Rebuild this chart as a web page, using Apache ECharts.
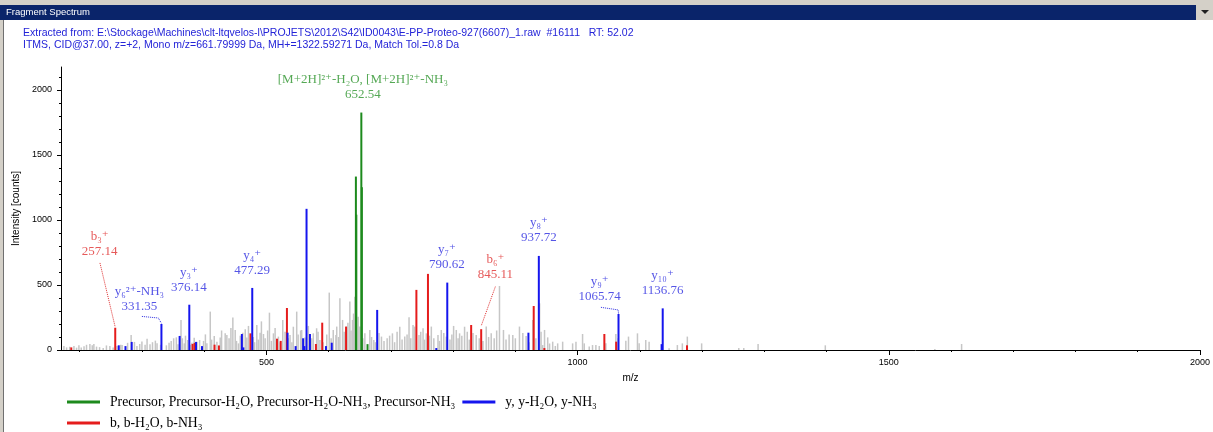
<!DOCTYPE html>
<html>
<head>
<meta charset="utf-8">
<title>Fragment Spectrum</title>
<script src="https://cdn.jsdelivr.net/npm/echarts@6/dist/echarts.min.js"></script>
<style>
html, body { margin: 0; padding: 0; background: #fff; }
#main { width: 1213px; height: 432px; }
</style>
</head>
<body>
<div id="main"></div>
<script>
// peaks as [m/z, intensity]
var precursorPeaks = [[643.8, 1333], [644.5, 1040], [652.54, 1825], [653.4, 1251], [662.5, 45]];

var yIonPeaks = [[262.8, 36], [273.6, 30], [283.6, 62], [331.35, 200], [360.6, 108], [376.14, 348], [387, 62], [396.5, 30],
    [460.6, 123], [463, 20], [477.29, 477], [534, 133], [547, 30], [559, 90], [561, 30], [564.5, 1085], [570, 123],
    [595.7, 30], [605, 56], [678, 308], [773, 15], [790.62, 518], [921, 133], [937.72, 723], [1065.74, 277],
    [1135, 45], [1136.76, 320]];

var bIonPeaks = [[186.5, 20], [257.14, 171], [381.4, 46], [384.6, 55], [416.7, 41], [423.7, 35], [474.4, 128], [517, 87],
    [523, 70], [533, 323], [579.6, 46], [589.7, 210], [628, 180], [741, 462], [759.6, 585], [829, 192], [845.11, 160],
    [929.5, 338], [946.6, 15], [1043, 123], [1062, 64], [1175.8, 36]];

var otherPeaks = [[174.7, 31], [179, 20], [184, 25], [190.8, 31], [195, 18], [198.8, 36], [202.5, 20], [207, 28], [211, 40],
    [216.4, 46], [220.2, 36], [222.8, 46], [227.1, 26], [232, 22], [237.8, 15], [243, 35], [248.5, 31], [253.8, 20],
    [260, 30], [266, 40], [268.2, 38], [277, 55], [282.7, 115], [288, 62], [292, 30], [296.5, 46], [300, 66], [305.1, 41],
    [308.3, 87], [313, 45], [317, 60], [321.6, 72], [324.3, 51], [330, 40], [339.3, 36], [343.6, 56], [347, 70], [351, 90],
    [355.3, 97], [358, 45], [362.8, 231], [365, 90], [368.1, 51], [370, 110], [373.5, 77], [378, 40], [380.4, 56],
    [384, 95], [388.4, 64], [392.7, 77], [399, 70], [402, 120], [404.4, 51], [409.8, 295], [412, 80], [416.2, 108],
    [420.5, 64], [425.8, 97], [428, 150], [433.8, 128], [436.5, 115], [440, 90], [443, 170], [446.1, 249], [449.9, 154],
    [452, 70], [455.2, 51], [458, 110], [462.1, 133], [466, 160], [468.6, 97], [471.2, 185], [479, 100], [481, 60],
    [484.6, 192], [487, 80], [489.9, 133], [492, 220], [495.3, 123], [498, 90], [502, 150], [504.9, 287], [508, 70],
    [511.3, 128], [514, 170], [519.3, 103], [522, 60], [526.3, 231], [530, 140], [535, 90], [538, 115], [541, 60],
    [543.3, 179], [548.7, 295], [551, 120], [555, 150], [556.7, 154], [562, 96], [567.4, 185], [573, 90], [575.4, 128],
    [580.7, 167], [583, 140], [586, 77], [591, 60], [597, 120], [601, 441], [604, 90], [607.4, 154], [611.7, 115],
    [613, 180], [616, 100], [618.1, 397], [622.4, 231], [625, 140], [628.8, 179], [631, 210], [634.1, 372], [636, 150],
    [638.4, 231], [640, 280], [642.1, 410], [647.5, 256], [650.2, 180], [655, 90], [658.2, 128], [666.2, 154], [669, 100],
    [672.6, 77], [675, 60], [681, 130], [684.9, 103], [689, 70], [694, 90], [698, 110], [702.5, 128], [706, 60], [710, 140],
    [714.3, 179], [718, 80], [722.3, 103], [726, 120], [729.2, 251], [732, 90], [735.6, 192], [738.3, 180], [745.2, 115],
    [748, 140], [751.7, 167], [754, 80], [757, 128], [762, 110], [765, 180], [769, 90], [775.7, 115], [778, 70], [781, 154],
    [785, 130], [789, 103], [795, 80], [798, 120], [800.8, 185], [805.1, 154], [808, 90], [810.4, 128], [814, 110],
    [818.4, 179], [822.7, 141], [826, 80], [832, 130], [837.1, 115], [842, 90], [848, 70], [853.2, 180], [857, 100],
    [861.2, 128], [866, 90], [870, 150], [874.5, 492], [880.9, 154], [885, 80], [890, 120], [895.9, 115], [900, 90],
    [906.6, 180], [912, 130], [917.3, 108], [922, 60], [928, 231], [933, 90], [938.9, 359], [941.3, 141], [943.9, 38],
    [946.9, 154], [952, 97], [955, 50], [960, 64], [964.2, 31], [968, 51], [976, 64], [992, 51], [997.4, 64], [1008, 123],
    [1010.7, 51], [1018.7, 26], [1024, 38], [1029.4, 38], [1034.8, 31], [1045.4, 51], [1061.5, 123], [1065.2, 90],
    [1077.5, 72], [1081.8, 103], [1096.2, 128], [1098.9, 51], [1109.5, 77], [1114.9, 64], [1147, 13], [1160.3, 38],
    [1168.3, 51], [1176.3, 103], [1199.3, 51], [1259, 15], [1267, 15], [1290, 46], [1398, 36], [1574, 8], [1617, 46]];

// annotation text, label anchor [m/z, intensity] under the text
var annotations = [
    { ion: 'b', text: 'b₃⁺\n257.14', at: [232, 692] },
    { ion: 'y', text: 'y₆²⁺-NH₃\n331.35', at: [296, 271] },
    { ion: 'y', text: 'y₃⁺\n376.14', at: [375.5, 415] },
    { ion: 'y', text: 'y₄⁺\n477.29', at: [477, 550] },
    { ion: 'p', text: '[M+2H]²⁺-H₂O, [M+2H]²⁺-NH₃\n652.54', at: [655, 1904] },
    { ion: 'y', text: 'y₇⁺\n790.62', at: [790, 596] },
    { ion: 'b', text: 'b₆⁺\n845.11', at: [868, 519] },
    { ion: 'y', text: 'y₈⁺\n937.72', at: [937.8, 800] },
    { ion: 'y', text: 'y₉⁺\n1065.74', at: [1035.6, 346] },
    { ion: 'y', text: 'y₁₀⁺\n1136.76', at: [1136.5, 396] }
];
var leaders = [
    { ion: 'b', path: [[232.6, 669], [257.14, 175]] },
    { ion: 'y', path: [[300, 258], [326.4, 246], [331.35, 205]] },
    { ion: 'b', path: [[867.9, 487], [845.11, 185]] },
    { ion: 'y', path: [[1037.5, 328], [1065.3, 308], [1065.74, 280]] }
];

var xMajorTicks = [500, 1000, 1500, 2000];
var xMinorTicks = [200, 300, 400, 600, 700, 800, 900, 1100, 1200, 1300, 1400, 1600, 1700, 1800, 1900];
var yMajorTicks = [0, 500, 1000, 1500, 2000];
var yMinorTicks = [100, 200, 300, 400, 600, 700, 800, 900, 1100, 1200, 1300, 1400, 1600, 1700, 1800, 1900, 2100];

var headerLines = [
    'Extracted from: E:\\Stockage\\Machines\\clt-ltqvelos-l\\PROJETS\\2012\\S42\\ID0043\\E-PP-Proteo-927(6607)_1.raw  #16111   RT: 52.02',
    'ITMS, CID@37.00, z=+2, Mono m/z=661.79999 Da, MH+=1322.59271 Da, Match Tol.=0.8 Da'
];

var names = {
    p: 'Precursor, Precursor-H₂O, Precursor-H₂O-NH₃, Precursor-NH₃',
    y: 'y, y-H₂O, y-NH₃',
    b: 'b, b-H₂O, b-NH₃'
};
var colors = { p: '#1d8a1d', y: '#1515ee', b: '#e51c1c', other: '#c6c6c6' };
var textColors = { p: '#2a922a', y: '#2b2be0', b: '#e03030' };

var serif = '"Liberation Serif", "DejaVu Serif", serif';
var sans = '"Liberation Sans", Arial, sans-serif';

function peakSeries(name, data, color, w, z) {
    return {
        type: 'custom',
        name: name,
        data: data,
        z: z,
        silent: true,
        clip: true,
        itemStyle: { color: color },
        renderItem: function (params, api) {
            var top = api.coord([api.value(0), api.value(1)]);
            var base = api.coord([api.value(0), 0]);
            return {
                type: 'rect',
                shape: { x: top[0] - w / 2, y: top[1], width: w, height: base[1] - top[1] },
                style: { fill: color }
            };
        }
    };
}

function plain(v) { return String(v); }

var chart = echarts.init(document.getElementById('main'));

var series = [
    peakSeries('other', otherPeaks, colors.other, 1.5, 1),
    peakSeries(names.b, bIonPeaks, colors.b, 2, 3),
    peakSeries(names.y, yIonPeaks, colors.y, 2, 3),
    peakSeries(names.p, precursorPeaks, colors.p, 2, 4)
];

series.push({
    type: 'scatter',
    silent: true,
    symbolSize: 1,
    itemStyle: { color: 'rgba(0,0,0,0)' },
    z: 6,
    data: annotations.map(function (a) {
        return {
            value: a.at,
            label: { formatter: a.text, color: textColors[a.ion] }
        };
    }),
    label: {
        show: true,
        position: 'top',
        distance: 0,
        align: 'center',
        fontFamily: serif,
        fontSize: 13,
        lineHeight: 15
    }
});

leaders.forEach(function (l) {
    series.push({
        type: 'line',
        silent: true,
        symbol: 'none',
        z: 5,
        data: l.path,
        lineStyle: { color: textColors[l.ion], width: 1, type: 'dotted' }
    });
});

var graphic = [
    { type: 'rect', shape: { x: 0, y: 0, width: 1213, height: 5 }, style: { fill: '#d4d0c8' } },
    { type: 'rect', shape: { x: 0, y: 5, width: 1196, height: 15 }, style: { fill: '#0a246a' } },
    { type: 'text', x: 6, y: 12.5, style: { text: 'Fragment Spectrum', fill: '#fff', font: '9.5px ' + sans, verticalAlign: 'middle' } },
    { type: 'rect', shape: { x: 1196, y: 5, width: 17, height: 15 }, style: { fill: '#d4d0c8' } },
    { type: 'polygon', shape: { points: [[1201, 10], [1209, 10], [1205, 14]] }, style: { fill: '#202020' } },
    { type: 'rect', shape: { x: 0, y: 20, width: 3, height: 412 }, style: { fill: '#d4d0c8' } },
    { type: 'line', shape: { x1: 3.5, y1: 20, x2: 3.5, y2: 432 }, style: { stroke: '#707070', lineWidth: 1 } }
];
headerLines.forEach(function (t, i) {
    graphic.push({
        type: 'text', x: 23, y: 32.7 + i * 12,
        style: { text: t, fill: '#2424d8', font: '10.5px ' + sans, verticalAlign: 'middle' }
    });
});

var option = {
    backgroundColor: '#fff',
    animation: false,
    grid: { left: 61, right: 11, top: 67, bottom: 82 },
    legend: {
        data: [names.p, names.y, names.b],
        left: 62,
        top: 390,
        width: 600,
        itemWidth: 33,
        itemHeight: 3,
        itemGap: 7,
        icon: 'rect',
        selectedMode: false,
        textStyle: { fontFamily: serif, fontSize: 13.7, color: '#000', lineHeight: 13, padding: [0, 0, 0, 5] }
    },
    xAxis: [{
        type: 'value',
        min: 170,
        max: 2000,
        name: 'm/z',
        nameLocation: 'middle',
        nameGap: 23,
        nameTextStyle: { fontFamily: sans, fontSize: 10, color: '#000' },
        axisLine: { lineStyle: { color: '#000', width: 1 } },
        axisTick: { customValues: xMajorTicks, length: 5, lineStyle: { color: '#000' } },
        axisLabel: { customValues: xMajorTicks, formatter: plain, fontFamily: sans, fontSize: 9, color: '#000', margin: 8 },
        splitLine: { show: false }
    }, {
        type: 'value',
        min: 170,
        max: 2000,
        position: 'bottom',
        axisLine: { show: false },
        axisTick: { customValues: xMinorTicks, length: 2, lineStyle: { color: '#000' } },
        axisLabel: { show: false },
        splitLine: { show: false }
    }],
    yAxis: [{
        type: 'value',
        min: 0,
        max: 2175,
        name: 'Intensity [counts]',
        nameLocation: 'middle',
        nameGap: 31,
        nameTextStyle: { fontFamily: sans, fontSize: 10, color: '#000' },
        axisLine: { show: true, lineStyle: { color: '#000', width: 1 } },
        axisTick: { show: true, customValues: yMajorTicks, length: 4, lineStyle: { color: '#000' } },
        axisLabel: { customValues: yMajorTicks, formatter: plain, fontFamily: sans, fontSize: 9, color: '#000', margin: 9 },
        splitLine: { show: false }
    }, {
        type: 'value',
        min: 0,
        max: 2175,
        position: 'left',
        axisLine: { show: false },
        axisTick: { show: true, customValues: yMinorTicks, length: 2, lineStyle: { color: '#000' } },
        axisLabel: { show: false },
        splitLine: { show: false }
    }],
    graphic: graphic,
    series: series
};

chart.setOption(option);
</script>
</body>
</html>
